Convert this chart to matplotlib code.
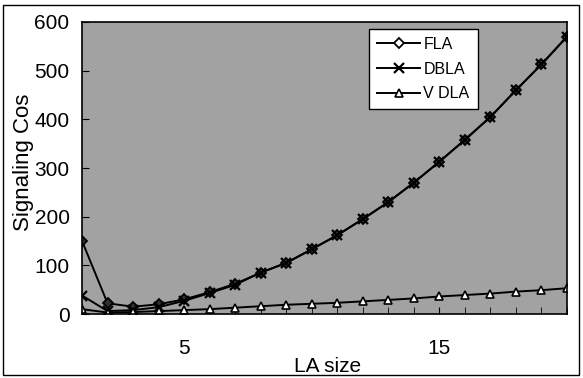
import matplotlib
matplotlib.use("Agg")
import matplotlib.pyplot as plt
from matplotlib.patches import Rectangle

plt.rcParams['font.family'] = ['Liberation Sans', 'DejaVu Sans']

la_size = list(range(1, 21))
fla = [150, 22, 15, 20, 30, 45, 62, 85, 105, 133, 162, 195, 230, 270, 313, 358, 405, 460, 513, 570]
dbla = [38, 6, 8, 14, 27, 43, 60, 85, 105, 133, 162, 195, 230, 270, 313, 358, 405, 460, 513, 570]
vdla = [10, 3, 4, 6, 8, 10, 13, 16, 19, 21, 23, 26, 29, 32, 36, 39, 42, 46, 49, 53]

fig = plt.figure(figsize=(5.83, 3.78), dpi=100)
ax = fig.add_axes([0.1407, 0.1693, 0.8319, 0.7725])
ax.set_facecolor('#a2a2a2')

ax.plot(la_size, fla, color='black', lw=1.4, marker='D', ms=5.5, mfc='#303030', mec='black', mew=1.3, label='FLA')
ax.plot(la_size, dbla, color='black', lw=1.4, marker='x', ms=7, mew=1.6, label='DBLA')
ax.plot(la_size, vdla, color='black', lw=1.4, marker='^', ms=6, mfc='white', mec='black', mew=1.2, label='V DLA')

ax.set_xlim(1, 20)
ax.set_ylim(0, 600)
ax.set_yticks(range(0, 601, 100))
ax.set_xticks([5, 15])
ax.set_xticks(la_size, minor=True)
ax.tick_params(axis='y', direction='in', length=5, labelsize=15, pad=9)
ax.tick_params(axis='x', which='major', direction='in', length=5, labelsize=15, pad=18)
ax.tick_params(axis='x', which='minor', direction='in', length=5)
for s in ax.spines.values():
    s.set_linewidth(1.2)

fig.text(0.040, 0.57, 'Signaling Cos', rotation=90, fontsize=16, ha='center', va='center')
fig.text(0.562, 0.03, 'LA size', fontsize=15, ha='center', va='center')

leg = ax.legend(loc='upper left', bbox_to_anchor=(0.592, 0.976), borderaxespad=0, fontsize=11.5,
                frameon=True, fancybox=False, edgecolor='black', framealpha=1, handlelength=2.7,
                borderpad=0.5, labelspacing=0.6, handletextpad=0.2)
leg.get_frame().set_linewidth(1.0)
for h in leg.legend_handles:
    h.set_markerfacecolor('white')

fig.patches.append(Rectangle((0.005, 0.008), 0.988, 0.978, transform=fig.transFigure,
                             fill=False, edgecolor='black', lw=1.0))

fig.savefig('out.png', dpi=100)
